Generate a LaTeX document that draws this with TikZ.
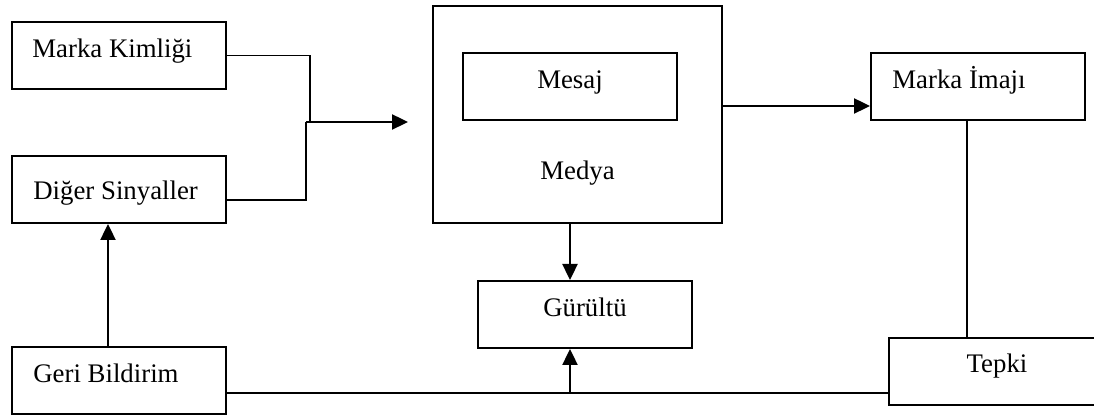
\documentclass[tikz,border=0pt]{standalone}
\usepackage{fontspec}
\setmainfont{Liberation Serif}
\usetikzlibrary{arrows.meta}
\begin{document}
\begin{tikzpicture}[x=0.5pt,y=-0.5pt,
  box/.style={draw, line width=1pt, minimum width=107pt, minimum height=33.5pt, inner sep=0pt},
  lbl/.style={inner sep=0pt, font=\fontsize{13.4}{16}\selectfont},
  thin line/.style={line width=0.55pt},
  flow/.style={line width=1.2pt, -{Triangle[length=8pt,width=7.5pt]}}]
\path[use as bounding box, clip] (0,0) rectangle (1094,416);

% boxes
\node[box] (mk) at (119,55.5) {};
\node[box] (ds) at (119,189.5) {};
\node[box] (gb) at (119,380.5) {};
\node[box, minimum width=144.5pt, minimum height=108.5pt] (medya) at (577.5,114.5) {};
\node[box] (mesaj) at (570,87) {};
\node[box] (gurultu) at (585,314.5) {};
\node[box] (mi) at (978,87) {};
\node[box] (tepki) at (996,371.5) {};

% texts
\node[lbl, anchor=base west] (tmk) at (32,58) {Marka Kimliği};
\node[lbl, anchor=base west] (tds) at (33,200) {Diğer Sinyaller};
\node[lbl, anchor=base west] (tgb) at (33,383) {Geri Bildirim};
\node[lbl, anchor=base] (tmesaj) at (570,89) {Mesaj};
\node[lbl, anchor=base] (tmedya) at (577.5,180) {Medya};
\node[lbl, anchor=base] (tgur) at (585,317) {Gürültü};
\node[lbl, anchor=base west] (tmi) at (892,89) {Marka İmajı};
\node[lbl, anchor=base] (ttep) at (997,373) {Tepki};

% junction points
\coordinate (j1) at (310,122);
\coordinate (j2) at (306,122);
\coordinate (in) at (408,122);
\coordinate (dsout) at (226,200);
\coordinate (ymi) at (0,106);
\coordinate (xg) at (570,0);
\coordinate (yb) at (0,393);
\coordinate (xf) at (108,0);
\coordinate (xr) at (967,0);
\coordinate (jb) at (570,393);

% connectors
\draw[thin line] (mk.east) -| (j1);
\draw[thin line] (dsout) -| (j2);
\draw[flow] (j2) -- (in);
\draw[flow] (medya.east |- ymi) -- (mi.west |- ymi);
\draw[flow] (medya.south -| xg) -- (gurultu.north -| xg);
\draw[thin line] (gb.east |- yb) -- (tepki.west |- yb);
\draw[flow] (jb) -- (gurultu.south -| xg);
\draw[flow] (gb.north -| xf) -- (ds.south -| xf);
\draw[thin line] (mi.south -| xr) -- (tepki.north -| xr);
\end{tikzpicture}
\end{document}
